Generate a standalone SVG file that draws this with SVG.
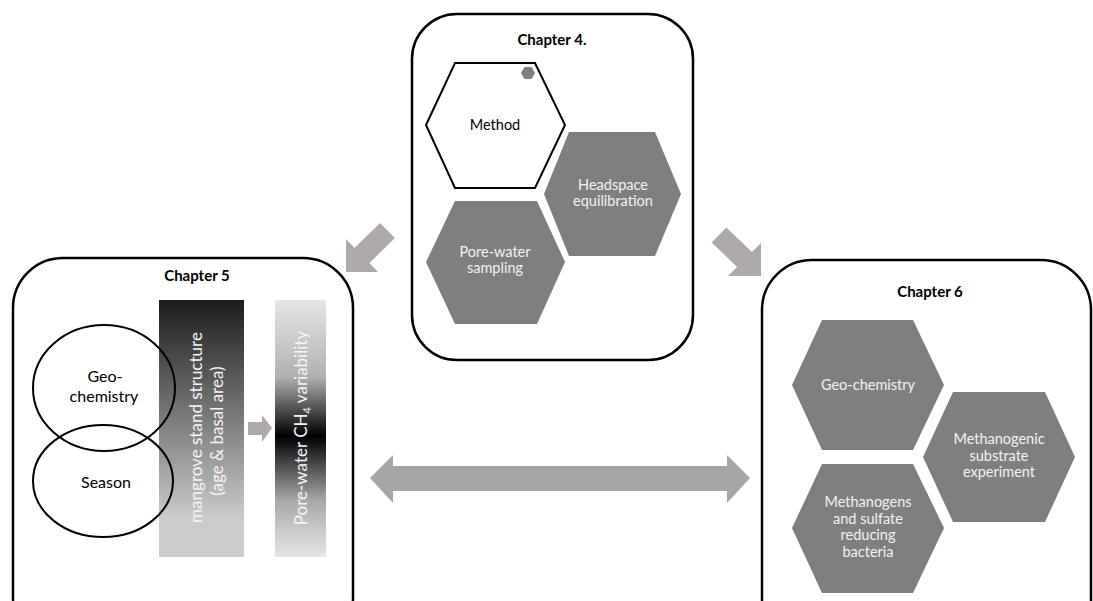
<svg xmlns="http://www.w3.org/2000/svg" width="1093" height="601" viewBox="0 0 1093 601">
<style>
.box{fill:#fff;stroke:#000;stroke-width:2.5}
.hex{fill:#7f7f7f;stroke:none}
.hexw{fill:#fff;stroke:#000;stroke-width:2}
.ell{fill:none;stroke:#000;stroke-width:2}
.title{font-family:Lato,"Liberation Sans",sans-serif;font-weight:bold;font-size:15px;fill:#000;text-anchor:middle}
.lbl{font-family:Lato,"Liberation Sans",sans-serif;font-size:14.5px;fill:#f2f2f2;text-anchor:middle}
.lblk{font-family:Lato,"Liberation Sans",sans-serif;font-size:14.5px;fill:#000;text-anchor:middle}
.cir{font-family:Lato,"Liberation Sans",sans-serif;font-size:16px;fill:#000;text-anchor:middle}
.vt{font-family:Lato,"Liberation Sans",sans-serif;font-size:17px;fill:#f5f5f5;text-anchor:middle}
.arr{fill:#aeaaaa}
.darr{fill:#a6a6a6}
</style>
<defs>
<linearGradient id="g1" x1="0" y1="0" x2="0" y2="1">
<stop offset="0" stop-color="#1c1c1c"/>
<stop offset="0.85" stop-color="#cbcbcb"/>
<stop offset="1" stop-color="#cccccc"/>
</linearGradient>
<linearGradient id="g2" x1="0" y1="0" x2="0" y2="1">
<stop offset="0" stop-color="#e6e6e6"/>
<stop offset="0.3" stop-color="#b0b0b0"/>
<stop offset="0.53" stop-color="#000"/>
<stop offset="0.78" stop-color="#a8a8a8"/>
<stop offset="1" stop-color="#e6e6e6"/>
</linearGradient>
</defs>

<g id="chapter4">
<rect class="box" x="412" y="14" width="281" height="346" rx="45" ry="45"/>
<text class="title" x="552" y="45">Chapter 4.</text>
<g id="method">
<polygon class="hexw" points="455,63 535,63 565,125 535,188 455,188 426,125"/>
<polygon class="hex" points="524.5,67 531.5,67 535,73 531.5,79 524.5,79 521,73"/>
<text class="lblk" x="495" y="130">Method</text>
</g>
<g id="headspace">
<polygon class="hex" points="569,132 655,132 681,194 655,256 569,256 544,194"/>
<text class="lbl" x="613" y="190">Headspace</text>
<text class="lbl" x="613" y="206">equilibration</text>
</g>
<g id="porewater">
<polygon class="hex" points="455,201 537,201 565,262 537,324 455,324 426,262"/>
<text class="lbl" x="495" y="257">Pore-water</text>
<text class="lbl" x="495" y="273">sampling</text>
</g>
</g>

<g id="chapter5">
<rect class="box" x="13" y="258" width="340" height="390" rx="50" ry="50"/>
<text class="title" x="197" y="281">Chapter 5</text>
<g id="stand">
<rect x="159" y="300" width="85" height="257" fill="url(#g1)"/>
<text class="vt" transform="translate(202,427.5) rotate(-90)">mangrove stand structure</text>
<text class="vt" transform="translate(223,431) rotate(-90)">(age &amp; basal area)</text>
</g>
<g id="ch4var">
<rect x="275" y="300" width="51" height="257" fill="url(#g2)"/>
<text class="vt" transform="translate(307,428) rotate(-90)">Pore-water CH<tspan font-size="11" dy="4">4</tspan><tspan dy="-4"> variability</tspan></text>
</g>
<g id="geochem5">
<ellipse class="ell" cx="104" cy="388" rx="71" ry="63"/>
<text class="cir" x="105" y="382">Geo-</text>
<text class="cir" x="104" y="402">chemistry</text>
</g>
<g id="season">
<ellipse class="ell" cx="103" cy="481" rx="70" ry="56"/>
<text class="cir" x="106" y="488">Season</text>
</g>
</g>

<g id="chapter6">
<rect class="box" x="762" y="260" width="329" height="390" rx="50" ry="50"/>
<text class="title" x="930" y="297">Chapter  6</text>
<g id="geochem6">
<polygon class="hex" points="822,320 913,320 944,385 913,450 822,450 792,385"/>
<text class="lbl" x="868" y="390">Geo-chemistry</text>
</g>
<g id="substrate">
<polygon class="hex" points="953,392 1045,392 1075,457 1045,522 953,522 923,457"/>
<text class="lbl" x="999" y="444">Methanogenic</text>
<text class="lbl" x="999" y="461">substrate</text>
<text class="lbl" x="999" y="477">experiment</text>
</g>
<g id="microbes">
<polygon class="hex" points="822,464 913,464 944,528 913,593 822,593 792,528"/>
<text class="lbl" x="868" y="507">Methanogens</text>
<text class="lbl" x="868" y="524">and sulfate</text>
<text class="lbl" x="868" y="540">reducing</text>
<text class="lbl" x="868" y="557">bacteria</text>
</g>
</g>

<g id="connectors">
<polygon class="arr" points="346,272 346,239 354.6,248 380,223 395,238 369.4,263 378,272"/>
<polygon class="arr" points="761,276 761,243 751.9,252.1 726.4,227.6 711.6,242.4 737.1,266.9 728,276"/>
<polygon class="arr" points="248,422 262,422 262,415 272,428 262,442 262,435 248,435"/>
<polygon class="darr" points="370,478 393,455 393,466 727,466 727,455 750,478 727,503 727,491 393,491 393,503"/>
</g>
</svg>
